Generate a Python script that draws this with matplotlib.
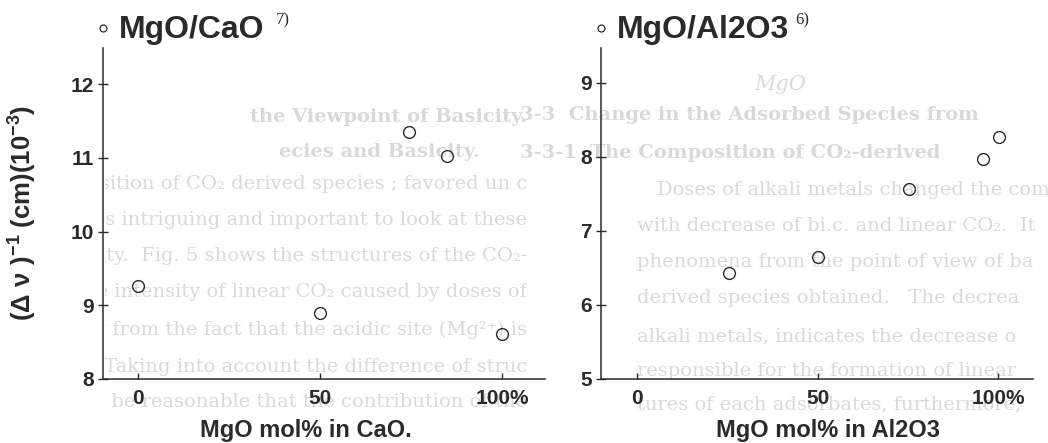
import matplotlib
matplotlib.use("Agg")
import matplotlib.pyplot as plt
from matplotlib.transforms import Bbox

W, H = 1048, 443

# data
cao_x = [0, 50, 74.5, 84.8, 100]
cao_y = [9.26, 8.89, 11.35, 11.03, 8.61]
al_x = [25.6, 50, 75.3, 95.8, 100.3]
al_y = [6.43, 6.65, 7.57, 7.97, 8.27]

x_ticks = [0, 50, 100]
x_ticklabels = ['0', '50', '100%']
cao_yticks = [8, 9, 10, 11, 12]
al_yticks = [5, 6, 7, 8, 9]

ink = '#2a2a2a'
faint = '#d9d9d9'
sans = ['Liberation Sans', 'DejaVu Sans']

plt.rcParams['font.family'] = sans
plt.rcParams['font.weight'] = 'bold'
plt.rcParams['mathtext.fontset'] = 'custom'
plt.rcParams['mathtext.rm'] = 'Liberation Sans:bold'
plt.rcParams['mathtext.it'] = 'Liberation Sans:bold'
plt.rcParams['mathtext.bf'] = 'Liberation Sans:bold'

fig = plt.figure(figsize=(W / 100, H / 100), dpi=100)
fig.patch.set_facecolor('white')


def px(x, y):
    return x / W, 1 - y / H


# faint show-through text of the scanned page behind the chart
# (the page is wrapped: the right half holds line starts, the left half the ends)
bg_left = [
    (117, "the Viewpoint of Basicity.", 'bold'),
    (152, "ecies and Basicity.       ", 'bold'),
    (184, "osition of CO\u2082 derived species ; favored un c", 'normal'),
    (220, "is intriguing and important to look at these", 'normal'),
    (256, "ity.  Fig. 5 shows the structures of the CO\u2082-", 'normal'),
    (292, "the intensity of linear CO\u2082 caused by doses of", 'normal'),
    (330, "ity from the fact that the acidic site (Mg\u00b2\u207a) is", 'normal'),
    (367, "Taking into account the difference of struc", 'normal'),
    (402, "ould be reasonable that the contribution of the", 'normal'),
]
bg_right = [
    (115, 520, "3-3  Change in the Adsorbed Species from", 'bold'),
    (153, 520, "3-3-1  The Composition of CO\u2082-derived", 'bold'),
    (190, 657, "Doses of alkali metals changed the com", 'normal'),
    (226, 637, "with decrease of bi.c. and linear CO\u2082.  It", 'normal'),
    (262, 637, "phenomena from the point of view of ba", 'normal'),
    (298, 637, "derived species obtained.   The decrea", 'normal'),
    (336, 637, "alkali metals, indicates the decrease o", 'normal'),
    (371, 637, "responsible for the formation of linear", 'normal'),
    (404, 637, "tures of each adsorbates, furthermore,", 'normal'),
]
clip = Bbox.from_extents(105, 0, 527, H)
for y, s, wt in bg_left:
    t = fig.text(*px(527, y), s, ha='right', va='center', fontsize=14,
                 family='DejaVu Serif', weight=wt, color=faint, zorder=-1)
    t.set_clip_box(clip)
    t.set_clip_on(True)
for y, x, s, wt in bg_right:
    fig.text(*px(x, y), s, ha='left', va='center', fontsize=14,
             family='DejaVu Serif', weight=wt, color=faint, zorder=-1)
fig.text(*px(780, 85), 'MgO', ha='center', va='center', fontsize=15,
         family='DejaVu Serif', style='italic', weight='normal', color=faint, zorder=-1)

ax1 = fig.add_axes([103 / W, 1 - 379 / H, 442 / W, 331 / H])
ax2 = fig.add_axes([601 / W, 1 - 379 / H, 432 / W, 331 / H])

panels = [
    (ax1, cao_x, cao_y, cao_yticks, (-9.6, 111.8), (8, 12.49),
     'MgO/CaO', '7)', 'MgO mol% in CaO.', 0.459, 0.39),
    (ax2, al_x, al_y, al_yticks, (-10.0, 109.7), (5, 9.47),
     'MgO/Al2O3', '6)', 'MgO mol% in Al2O3', 0.525, 0.45),
]

for ax, xs, ys, yt, xl, yl, title, ref, xlab, xpos, ref_x in panels:
    ax.set_facecolor('none')
    ax.plot(xs, ys, linestyle='none', marker='o', ms=8.5, mfc='none',
            mec=ink, mew=1.0, clip_on=False)
    ax.set_xlim(*xl)
    ax.set_ylim(*yl)
    for side in ['top', 'right']:
        ax.spines[side].set_visible(False)
    for side in ['left', 'bottom']:
        ax.spines[side].set_linewidth(1.1)
        ax.spines[side].set_color(ink)
    ax.set_xticks(x_ticks)
    ax.set_xticklabels(x_ticklabels)
    ax.set_yticks(yt)
    ax.tick_params(axis='x', direction='in', length=4, width=1, pad=7,
                   labelsize=15, colors=ink)
    ax.tick_params(axis='y', direction='inout', length=7, width=1, pad=3,
                   labelsize=15, colors=ink)
    ax.set_xlabel(xlab, fontsize=17, color=ink, fontweight='bold')
    ax.xaxis.label.set_va('center')
    ax.xaxis.set_label_coords(xpos, -0.155)

    # legend-like header above each panel
    ax.plot([0], [1.06], transform=ax.transAxes, marker='o', ms=5,
            mfc='none', mec=ink, mew=0.9, clip_on=False)
    ax.text(0.037, 1.031, title, transform=ax.transAxes, ha='left',
            va='baseline', fontsize=23, color=ink)
    ax.text(ref_x, 1.07, ref, transform=ax.transAxes, ha='left',
            va='baseline', fontsize=12, family='Liberation Serif',
            weight='normal', color=ink)

fig.text(*px(23, 213), r'$(\Delta\ \nu\ )^{-1}$ (cm)(10$^{-3}$)',
         rotation=90, ha='center', va='center', fontsize=18.5, color=ink)

fig.savefig('out.png', dpi=100)
